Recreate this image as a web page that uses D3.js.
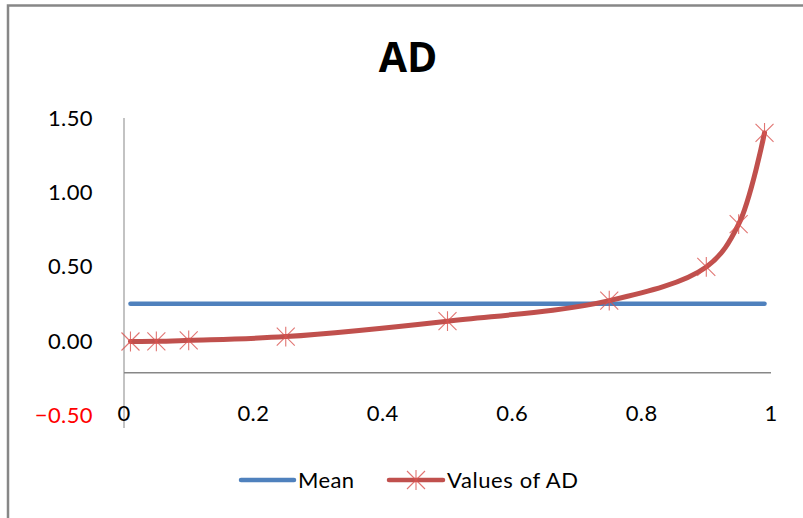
<!DOCTYPE html>
<html>
<head>
<meta charset="utf-8">
<script src="https://cdn.jsdelivr.net/npm/d3@7"></script>
<style>
  body { margin: 0; background: #fff; }
  svg { display: block; font-family: Lato, "Open Sans", sans-serif; }
</style>
</head>
<body>
<div id="chart"></div>
<script>
// data
var probs = [0.01, 0.05, 0.1, 0.25, 0.5, 0.75, 0.9, 0.95, 0.99];
var adValues = [-0.005, -0.004, 0.003, 0.028, 0.132, 0.27, 0.497, 0.785, 1.40];
var meanX = [0.01, 0.99];
var meanValue = 0.25;
var yTicks = [-0.5, 0, 0.5, 1.0, 1.5];
var xTicks = [0, 0.2, 0.4, 0.6, 0.8, 1];
var axisCross = -0.215;

var W = 803, H = 518;

var svg = d3.select("#chart").append("svg")
  .attr("width", W)
  .attr("height", H);

// chart area border (only top/left visible)
svg.append("path")
  .attr("d", "M8,520 L8,5.5 L810,5.5")
  .style("fill", "none")
  .style("stroke", "#878787")
  .style("stroke-width", 2.5);

var x = d3.scaleLinear().domain([0, 1]).range([124, 771]);
var y = d3.scaleLinear().domain([-0.5, 1.5]).range([415, 118]);

// title
svg.append("text")
  .attr("x", 408)
  .attr("y", 72)
  .text("AD")
  .style("font-family", "'Open Sans', sans-serif")
  .style("font-weight", "bold")
  .style("font-size", "41px")
  .style("text-anchor", "middle");

// vertical axis line
svg.append("line")
  .attr("x1", x(0)).attr("x2", x(0))
  .attr("y1", y(1.5)).attr("y2", 428)
  .style("stroke", "#878787")
  .style("stroke-width", 1);

// horizontal axis line
svg.append("line")
  .attr("x1", x(0)).attr("x2", x(1))
  .attr("y1", y(axisCross)).attr("y2", y(axisCross))
  .style("stroke", "#878787")
  .style("stroke-width", 1.5);

// y tick labels
svg.selectAll("text.ytick")
  .data(yTicks)
  .enter().append("text")
  .attr("class", "ytick")
  .attr("x", 93)
  .attr("y", function(d) { return y(d); })
  .attr("dy", "0.36em")
  .text(function(d) { return d3.format(".2f")(d); })
  .style("font-size", "22px")
  .style("letter-spacing", "0.4px")
  .style("fill", function(d) { return d < 0 ? "#ff0000" : "#000"; })
  .style("text-anchor", "end");

// x tick labels
svg.selectAll("text.xtick")
  .data(xTicks)
  .enter().append("text")
  .attr("class", "xtick")
  .attr("x", function(d) { return x(d); })
  .attr("y", 413)
  .attr("dy", "0.36em")
  .text(function(d) { return d; })
  .style("font-size", "22px")
  .style("letter-spacing", "0.4px")
  .style("text-anchor", "middle");

// mean line
svg.append("line")
  .attr("x1", x(meanX[0])).attr("x2", x(meanX[1]))
  .attr("y1", y(meanValue)).attr("y2", y(meanValue))
  .style("stroke", "#4f81bd")
  .style("stroke-width", 4.5)
  .style("stroke-linecap", "round");

// AD curve
var pts = probs.map(function(p, i) { return [p, adValues[i]]; });
var line = d3.line()
  .x(function(d) { return x(d[0]); })
  .y(function(d) { return y(d[1]); })
  .curve(d3.curveCatmullRom.alpha(0.5));

svg.append("path")
  .datum(pts)
  .attr("d", line)
  .style("fill", "none")
  .style("stroke", "#c0504d")
  .style("stroke-width", 5)
  .style("stroke-linecap", "round");

// star markers
function star(g, cx, cy, r) {
  var d = "M" + (cx - r) + "," + (cy - r) + "L" + (cx + r) + "," + (cy + r) +
          "M" + (cx - r) + "," + (cy + r) + "L" + (cx + r) + "," + (cy - r) +
          "M" + cx + "," + (cy - r * 1.1) + "L" + cx + "," + (cy + r * 1.1);
  g.append("path")
    .attr("d", d)
    .style("fill", "none")
    .style("stroke", "#d9534f")
    .style("stroke-opacity", 0.8)
    .style("stroke-width", 1.1);
}
pts.forEach(function(d) { star(svg, x(d[0]), y(d[1]), 9); });

// legend
var ly = 480;
svg.append("line")
  .attr("x1", 241).attr("x2", 294)
  .attr("y1", ly).attr("y2", ly)
  .style("stroke", "#4f81bd")
  .style("stroke-width", 4.5)
  .style("stroke-linecap", "round");
svg.append("text")
  .attr("x", 298).attr("y", ly)
  .attr("dy", "0.36em")
  .text("Mean")
  .style("font-size", "22px")
  .style("letter-spacing", "0.4px");

svg.append("line")
  .attr("x1", 389).attr("x2", 443)
  .attr("y1", ly).attr("y2", ly)
  .style("stroke", "#c0504d")
  .style("stroke-width", 4.5)
  .style("stroke-linecap", "round");
star(svg, 416, ly, 9);
svg.append("text")
  .attr("x", 447).attr("y", ly)
  .attr("dy", "0.36em")
  .text("Values of AD")
  .style("font-size", "22px")
  .style("letter-spacing", "0.6px");
</script>
</body>
</html>
